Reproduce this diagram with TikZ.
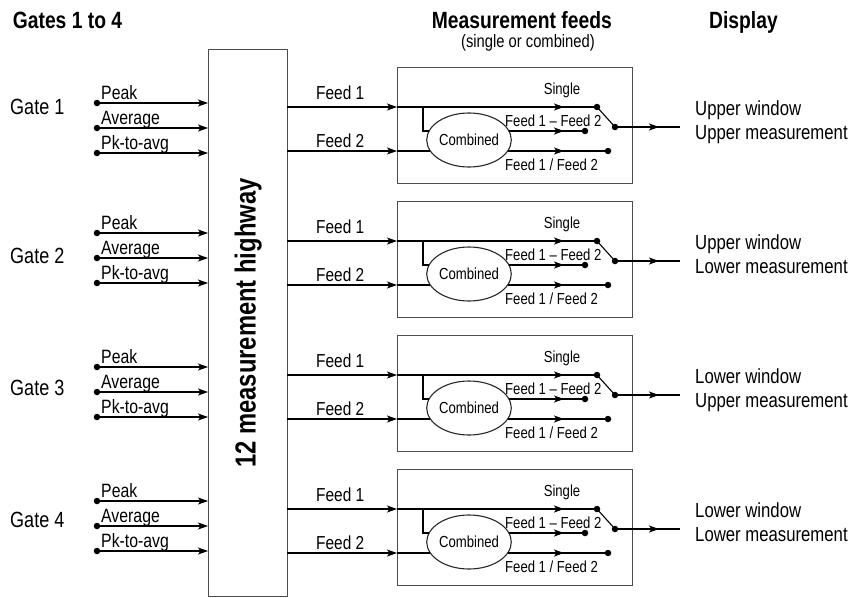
\documentclass[tikz,border=0pt]{standalone}
\usepackage{fontspec}
\setmainfont{Liberation Sans}[FakeStretch=0.82]
\usetikzlibrary{arrows.meta,shapes.geometric}
\begin{document}
\begin{tikzpicture}[x=1pt,y=-1pt,
  ln/.style={line width=1.1pt, draw=black},
  arr/.style={ln, -{Stealth[length=10pt,width=7pt,inset=2.5pt]}},
  box/.style={draw=black!70, line width=1.2pt, inner sep=0pt},
  dotc/.style={circle, fill=black, inner sep=0pt, minimum size=6.5pt},
  titlef/.style={font=\bfseries\fontsize{23.5}{25}\selectfont, inner sep=0pt},
  subf/.style={font=\fontsize{18}{20}\selectfont, inner sep=0pt},
  gatef/.style={font=\fontsize{22}{24}\selectfont, inner sep=0pt},
  lblf/.style={font=\fontsize{19.3}{21}\selectfont, inner sep=0pt},
  feedf/.style={font=\fontsize{18.8}{20}\selectfont, inner sep=0pt},
  smallf/.style={font=\fontsize{16}{18}\selectfont, inner sep=0pt},
  dispf/.style={font=\fontsize{20.4}{22}\selectfont, inner sep=0pt},
  hwf/.style={font=\bfseries\fontsize{29}{31}\selectfont, inner sep=0pt}]
\useasboundingbox (0,0) rectangle (866,597);

% titles
\node[titlef, anchor=base west] (t1) at (12.7,28.3) {Gates 1 to 4};
\node[titlef, anchor=base east] (t2) at (612,28.3) {Measurement feeds};
\node[subf, anchor=base east] (t3) at (595,47) {(single or combined)};
\node[titlef, anchor=base west] (t4) at (709,28.3) {Display};

% highway
\node[box, minimum width=79pt, minimum height=547pt, anchor=north west] (hw) at (208,49) {};
\node[hwf, rotate=90] (hwl) at (hw.center) {12 measurement highway};

% gates
\foreach \i/\o/\gb in {1/0/114, 2/130/263, 3/264/395, 4/398/527} {
  \node[gatef, anchor=base west] (gate\i) at (10,\gb) {Gate \i};
  \foreach \t [count=\k from 0] in {Peak, Average, Pk-to-avg} {
    \pgfmathsetmacro\yy{103+\o+25*\k}
    \node[dotc] (g\i-d\k) at (97,\yy) {};
    \coordinate (g\i-e\k) at (208,\yy);
    \draw[arr] (g\i-d\k.center) -- (g\i-e\k);
    \node[lblf, anchor=base west] (g\i-l\k) at (101,\yy-3.5) {\t};
  }
}

% feed rows
\foreach \i/\o/\ua/\ub in {1/0/Upper window/Upper measurement, 2/134/Upper window/Lower measurement, 3/268/Lower window/Upper measurement, 4/402/Lower window/Lower measurement} {
  \node[box, anchor=north west, minimum width=235pt, minimum height=116pt] (fb\i) at (397,67+\o) {};
  \node[ellipse, draw=black!85, line width=1.1pt, minimum width=78pt, minimum height=54pt, inner sep=0pt, smallf] (cb\i) at (469,140+\o) {Combined};
  \coordinate (hA\i) at (287,107+\o);
  \coordinate (inA\i) at (397,107+\o);
  \coordinate (hB\i) at (287,151+\o);
  \coordinate (inB\i) at (397,151+\o);
  \coordinate (br\i) at (423,107+\o);
  \coordinate (bc\i) at (423,131+\o);
  \coordinate (mA\i) at (564,107+\o);
  \coordinate (mB\i) at (564,131+\o);
  \coordinate (mC\i) at (564,151+\o);
  \node[dotc] (s\i) at (597,107+\o) {};
  \node[dotc] (o\i) at (615,127+\o) {};
  \node[dotc] (dB\i) at (585,131+\o) {};
  \node[dotc] (dC\i) at (608,151+\o) {};
  \coordinate (oa\i) at (659,127+\o);
  \coordinate (oe\i) at (680,127+\o);
  \draw[ln] (inA\i) -- (s\i.center);
  \draw[arr] (inA\i) -- (mA\i);
  \draw[arr] (hA\i) -- (inA\i);
  \draw[ln] (br\i) -- (bc\i) -- (bc\i -| cb\i.166);
  \draw[arr] (hB\i) -- (inB\i);
  \draw[ln] (inB\i) -- (inB\i -| cb\i.197);
  \draw[ln] (mB\i -| cb\i.14) -- (dB\i.center);
  \draw[arr] (mB\i -| cb\i.14) -- (mB\i);
  \draw[ln] (mC\i -| cb\i.-17) -- (dC\i.center);
  \draw[arr] (mC\i -| cb\i.-17) -- (mC\i);
  \draw[ln] (s\i.center) -- (o\i.center);
  \draw[ln] (o\i.center) -- (oe\i);
  \draw[arr] (o\i.center) -- (oa\i);
  \node[feedf, anchor=base west] (fA\i) at (316,99.5+\o) {Feed 1};
  \node[feedf, anchor=base west] (fB\i) at (316,147+\o) {Feed 2};
  \node[smallf, anchor=base] (sg\i) at (562,94.5+\o) {Single};
  \node[smallf, anchor=base west] (fd\i) at (505,126+\o) {Feed 1 -- Feed 2};
  \node[smallf, anchor=base west] (fq\i) at (505,170+\o) {Feed 1 / Feed 2};
  \node[dispf, anchor=base west] (w\i) at (695,115+\o) {\ua};
  \node[dispf, anchor=base west] (ms\i) at (695,139+\o) {\ub};
}
\end{tikzpicture}
\end{document}
